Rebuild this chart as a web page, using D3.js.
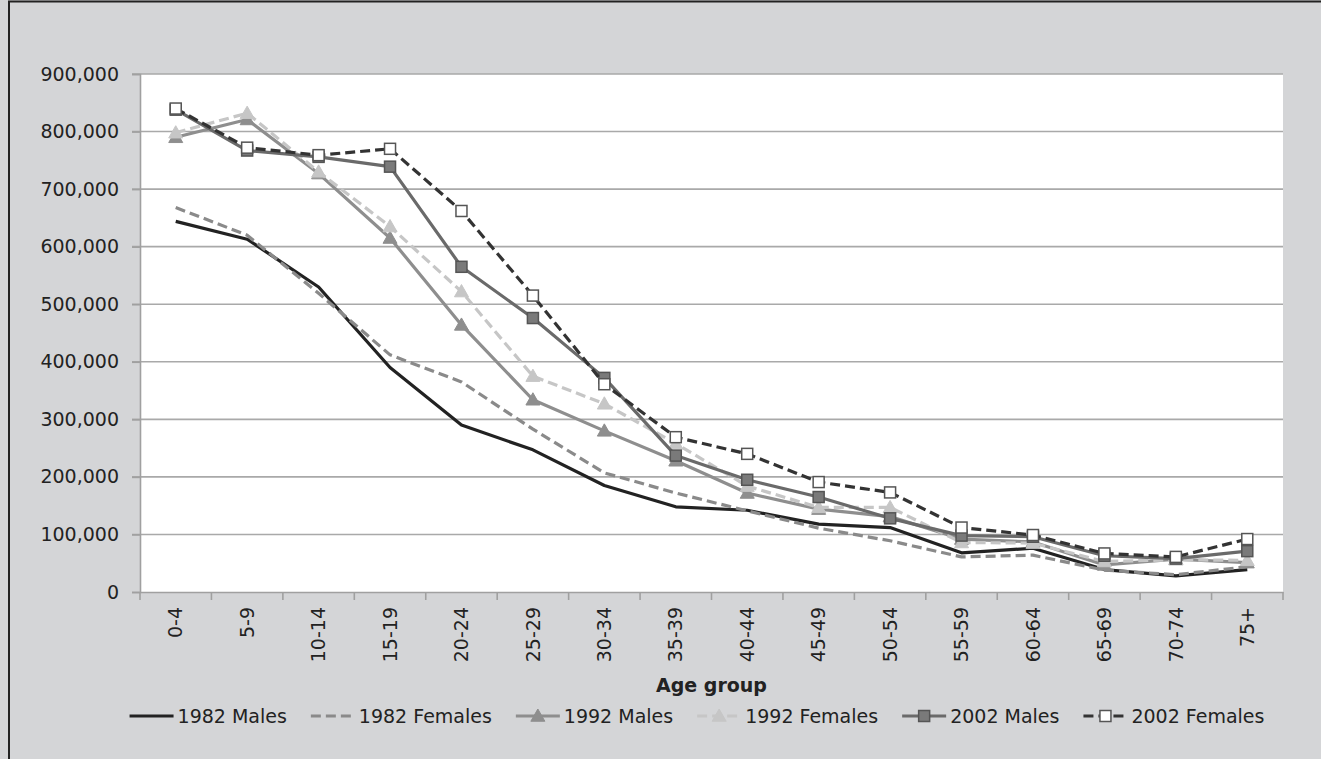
<!DOCTYPE html>
<html><head><meta charset="utf-8">
<script src="https://cdn.jsdelivr.net/npm/d3@7/dist/d3.min.js"></script>
<style>
html,body{margin:0;padding:0;background:#d4d5d7;}
svg{display:block;}
text{font-family:"DejaVu Sans",Verdana,sans-serif;fill:#222;}
</style></head>
<body>
<svg id="chart" width="1321" height="759"></svg>
<script>
const categories = ["0-4","5-9","10-14","15-19","20-24","25-29","30-34","35-39","40-44","45-49","50-54","55-59","60-64","65-69","70-74","75+"];
const males1982   = [644000,613000,530000,390000,290000,247000,185000,148000,142000,118000,112000,68000,76000,39000,28000,39000];
const females1982 = [668000,620000,519000,412000,365000,283000,207000,172000,141000,111000,89000,61000,64000,38000,30000,44000];
const males1992   = [790000,821000,727000,615000,464000,334000,280000,228000,172000,144000,131000,92000,87000,47000,57000,51000];
const females1992 = [798000,832000,730000,635000,522000,375000,327000,258000,184000,147000,147000,86000,85000,53000,56000,55000];
const males2002   = [838000,767000,756000,739000,565000,476000,372000,237000,195000,165000,128000,98000,96000,63000,58000,71000];
const females2002 = [840000,772000,759000,770000,662000,515000,361000,269000,240000,191000,173000,112000,99000,67000,61000,92000];
const yTicks = [0,100000,200000,300000,400000,500000,600000,700000,800000,900000];
const seriesNames = ["1982 Males","1982 Females","1992 Males","1992 Females","2002 Males","2002 Females"];
const xTitle = "Age group";

const series = [
  {name:seriesNames[0], values:males1982,   color:"#222222", dash:null,   marker:null},
  {name:seriesNames[1], values:females1982, color:"#8a8a8a", dash:"10,5", marker:null},
  {name:seriesNames[2], values:males1992,   color:"#8e8e8e", dash:null,   marker:"tri", fill:"#8e8e8e", stroke:"#8e8e8e"},
  {name:seriesNames[3], values:females1992, color:"#c6c6c6", dash:"10,5", marker:"tri", fill:"#c6c6c6", stroke:"#c6c6c6"},
  {name:seriesNames[4], values:males2002,   color:"#6a6a6a", dash:null,   marker:"sq", fill:"#7a7a7a", stroke:"#555555"},
  {name:seriesNames[5], values:females2002, color:"#333333", dash:"10,5", marker:"sq", fill:"#ffffff", stroke:"#555555"}
];

const svg = d3.select("#chart");
const L = 140, R = 1283, T = 74, B = 592;

// background & frame
svg.append("rect").attr("x",0).attr("y",0).attr("width",1321).attr("height",759).attr("fill","#d4d5d7");
svg.append("path").attr("d","M9,759 L9,1.5 L1321,1.5").attr("fill","none").attr("stroke","#222").attr("stroke-width",2);
svg.append("rect").attr("x",L).attr("y",T).attr("width",R-L).attr("height",B-T).attr("fill","#ffffff");

const x = d3.scaleBand().domain(categories).range([L,R]).padding(0);
const y = d3.scaleLinear().domain([0,900000]).range([B,T]);

// gridlines
svg.append("g").selectAll("line").data(yTicks.filter(d=>d>0)).join("line")
  .attr("x1",L-8).attr("x2",R).attr("y1",d=>y(d)).attr("y2",d=>y(d))
  .attr("stroke","#a9a9a9").attr("stroke-width",1.6);

// y axis
const yAxis = d3.axisLeft(y).tickValues(yTicks).tickFormat(d3.format(",")).tickSize(8).tickPadding(13);
const gy = svg.append("g").attr("transform",`translate(${L},0)`).call(yAxis);
gy.select(".domain").attr("stroke","#a0a0a0").attr("stroke-width",1.6);
gy.selectAll(".tick line").attr("stroke","#a0a0a0").attr("stroke-width",1.6);
gy.selectAll(".tick text").style("font-size","19px").style("font-family","'DejaVu Sans',Verdana,sans-serif").attr("fill","#222");

// x axis
const xAxis = d3.axisBottom(x).tickSize(0).tickFormat(d=>d);
const gx = svg.append("g").attr("transform",`translate(0,${B})`).call(xAxis);
gx.select(".domain").attr("stroke","#a0a0a0").attr("stroke-width",1.6);
gx.selectAll(".tick text")
  .style("font-size","19px").style("font-family","'DejaVu Sans',Verdana,sans-serif").attr("fill","#222")
  .attr("transform","rotate(-90)")
  .attr("x",-15).attr("y",0).attr("dy","0.35em")
  .attr("text-anchor","end");
// boundary ticks
const edges = categories.map(c=>x(c)).concat([R]);
svg.append("g").selectAll("line").data(edges).join("line")
  .attr("x1",d=>d).attr("x2",d=>d).attr("y1",B).attr("y2",B+8)
  .attr("stroke","#a0a0a0").attr("stroke-width",1.6);

svg.append("text").attr("x",(L+R)/2).attr("y",692).attr("text-anchor","middle")
  .style("font-size","19px").style("font-weight","bold").text(xTitle);

// lines
const cx = c => x(c) + x.bandwidth()/2;
const lineGen = d3.line().x((d,i)=>cx(categories[i])).y(d=>y(d));

function drawMarker(g, type, px, py, fill, stroke){
  if(type==="tri"){
    const s = 7;
    g.append("path").attr("d",`M${px},${py-s} L${px+s*1.0},${py+s*0.75} L${px-s*1.0},${py+s*0.75} Z`)
      .attr("fill",fill).attr("stroke",stroke).attr("stroke-width",1);
  } else if(type==="sq"){
    const s = 5.5;
    g.append("rect").attr("x",px-s).attr("y",py-s).attr("width",2*s).attr("height",2*s)
      .attr("fill",fill).attr("stroke",stroke).attr("stroke-width",1.5);
  }
}

series.forEach(s=>{
  const g = svg.append("g");
  g.append("path").datum(s.values).attr("d",lineGen)
    .attr("fill","none").attr("stroke",s.color).attr("stroke-width",3.2)
    .attr("stroke-dasharray",s.dash).attr("stroke-linejoin","round");
  if(s.marker){
    s.values.forEach((v,i)=>drawMarker(g,s.marker,cx(categories[i]),y(v),s.fill,s.stroke));
  }
});

// legend
const legendY = 716;
const tmp = svg.append("text").style("font-size","19px");
const widths = seriesNames.map(n=>{tmp.text(n); return tmp.node().getComputedTextLength();});
tmp.remove();
const symW = 44, gapT = 4, gapItem = 24;
const total = d3.sum(widths) + seriesNames.length*(symW+gapT) + (seriesNames.length-1)*gapItem;
let lx = 697 - total/2;
const lg = svg.append("g");
series.forEach((s,i)=>{
  lg.append("line").attr("x1",lx).attr("x2",lx+symW).attr("y1",legendY).attr("y2",legendY)
    .attr("stroke",s.color).attr("stroke-width",3.2).attr("stroke-dasharray",s.dash);
  if(s.marker) drawMarker(lg,s.marker,lx+symW/2,legendY,s.fill,s.stroke);
  lg.append("text").attr("x",lx+symW+gapT).attr("y",legendY).attr("dy","0.35em")
    .style("font-size","19px").text(s.name);
  lx += symW + gapT + widths[i] + gapItem;
});
</script>
</body></html>
